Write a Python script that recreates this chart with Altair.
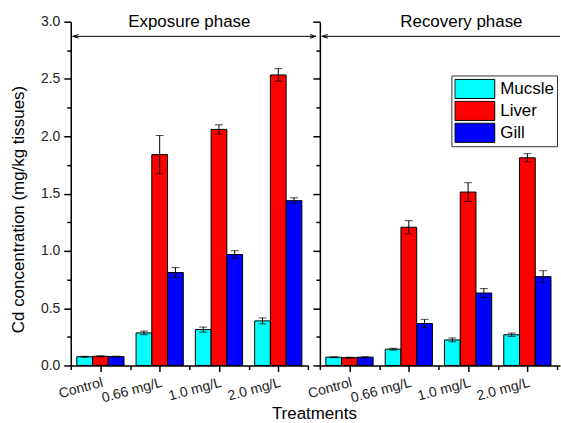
import json
import altair as alt
import pandas as pd

FONT = "Liberation Sans"

# ---------------- data ----------------
treatments = ["Control", "0.66 mg/L", "1.0 mg/L", "2.0 mg/L"]
tissues = ["Mucsle", "Liver", "Gill"]
tissue_colors = ["#00FFFF", "#FF0000", "#0000FF"]
phases = ["Exposure phase", "Recovery phase"]

exposure_mucsle = [0.076, 0.284, 0.313, 0.389]
exposure_mucsle_err = [0.004, 0.016, 0.022, 0.026]
exposure_liver = [0.080, 1.840, 2.060, 2.535]
exposure_liver_err = [0.005, 0.167, 0.040, 0.055]
exposure_gill = [0.077, 0.811, 0.968, 1.438]
exposure_gill_err = [0.004, 0.043, 0.033, 0.025]

recovery_mucsle = [0.072, 0.142, 0.223, 0.268]
recovery_mucsle_err = [0.004, 0.008, 0.017, 0.015]
recovery_liver = [0.068, 1.206, 1.513, 1.812]
recovery_liver_err = [0.004, 0.058, 0.082, 0.036]
recovery_gill = [0.072, 0.366, 0.632, 0.775]
recovery_gill_err = [0.004, 0.036, 0.039, 0.052]

y_title = "Cd concentration (mg/kg tissues)"
x_title = "Treatments"

# ---------------- layout helpers ----------------
BAR_W = 0.2655
x_major = [0, 1, 2, 3]
x_minor = [-0.5, 0.5, 1.5, 2.5, 3.5]
y_major = [i * 0.5 for i in range(7)]
y_minor = [0.25 + i * 0.5 for i in range(6)]


def bar_table(vals_list, errs_list):
    rows = []
    for k, tissue in enumerate(tissues):
        for i, t in enumerate(treatments):
            rows.append({"tissue": tissue, "treatment": t, "idx": i, "k": k,
                         "value": vals_list[k][i], "err": errs_list[k][i]})
    df = pd.DataFrame(rows)
    df["x0"] = df["idx"] + (df["k"] - 1.5) * BAR_W
    df["x1"] = df["x0"] + BAR_W
    df["xc"] = df["x0"] + BAR_W / 2
    df["lo"] = df["value"] - df["err"]
    df["hi"] = df["value"] + df["err"]
    df["zero"] = 0.0
    return df


x_label_expr = f"{json.dumps(treatments)}[datum.value]"

COMMON = dict(tickColor="black", tickWidth=1.5, domainColor="black", domainWidth=1.5,
              grid=False, labelOverlap=False)


def x_axis_major(with_title):
    d = dict(COMMON, values=x_major, labelExpr=x_label_expr, labelAngle=-15,
             labelAlign="right", labelBaseline="top", labelPadding=4,
             labelFont=FONT, labelFontSize=14, labelColor="#222", labelFlush=False,
             tickSize=6, orient="bottom")
    if with_title:
        d.update(title=x_title, titleFont=FONT, titleFontSize=17, titleFontWeight="normal",
                 titleColor="black", titleX=244, titleY=53.5, titleBaseline="alphabetic",
                 titleAlign="center")
    else:
        d.update(title=None)
    return alt.Axis(**d)


def x_axis_minor():
    return alt.Axis(values=x_minor, labels=False, domain=False, tickSize=4,
                    tickColor="black", tickWidth=1.5, grid=False, title=None,
                    orient="bottom")


def y_axis_major(with_labels):
    d = dict(COMMON, values=y_major, tickSize=7, orient="left")
    if with_labels:
        d.update(format=".1f", labelFont=FONT, labelFontSize=14, labelColor="#222",
                 labelPadding=4, title=y_title, titleFont=FONT, titleFontSize=17,
                 titleFontWeight="normal", titleColor="black", titleX=-43, titleY=188)
    else:
        d.update(labels=False, title=None)
    return alt.Axis(**d)


def y_axis_minor():
    return alt.Axis(values=y_minor, labels=False, domain=False, tickSize=4,
                    tickColor="black", tickWidth=1.5, grid=False, title=None,
                    orient="left")


def panel(df, phase_label, label_pos, span, xmax, width, left):
    xs = alt.Scale(domain=[-0.5, xmax], nice=False, zero=False)
    ys = alt.Scale(domain=[0, 3.0], nice=False, zero=True)
    if left:
        legend = None
    else:
        legend = alt.Legend(orient="none", legendX=132, legendY=54, title=None,
                            symbolType="M-1,-0.96H3V0.96H-1Z", symbolSize=400,
                            symbolStrokeColor="black", symbolStrokeWidth=1,
                            labelFont=FONT, labelFontSize=17, labelColor="black",
                            labelOffset=25, strokeColor="#333", fillColor="white",
                            padding=3, rowPadding=1, clipHeight=21)
    color = alt.Color("tissue:N", scale=alt.Scale(domain=tissues, range=tissue_colors),
                      legend=legend)

    bars = alt.Chart(df).mark_bar(stroke="black", strokeWidth=1).encode(
        x=alt.X("x0:Q", scale=xs, axis=x_axis_major(left)),
        x2="x1:Q",
        y=alt.Y("value:Q", scale=ys, axis=y_axis_major(left)),
        y2="zero:Q",
        color=color,
    )
    err = alt.Chart(df).mark_rule(color="black", strokeWidth=1).encode(
        x=alt.X("xc:Q", axis=x_axis_minor()), y=alt.Y("lo:Q", axis=y_axis_minor()),
        y2="hi:Q")
    caps = alt.Chart(df).transform_fold(["lo", "hi"], as_=["which", "yv"]).mark_tick(
        orient="horizontal", size=8, thickness=1, color="black").encode(
        x=alt.X("xc:Q", axis=None), y=alt.Y("yv:Q", axis=None))

    arrow_df = pd.DataFrame({"xs": [span[0]], "xe": [span[1]], "y": [2.872]})
    arrow = alt.Chart(arrow_df).mark_rule(color="black", strokeWidth=1).encode(
        x=alt.X("xs:Q", axis=None), x2="xe:Q", y=alt.Y("y:Q", axis=None))
    head_l = alt.Chart(arrow_df).transform_calculate(hx="datum.xs + 0.05").mark_point(
        shape="M-1,0L1,-0.6M-1,0L1,0.6", filled=False, size=36, stroke="black",
        strokeWidth=1, opacity=1).encode(x=alt.X("hx:Q", axis=None), y=alt.Y("y:Q", axis=None))
    layers = [bars, err, caps, arrow, head_l]
    if left:
        head_r = alt.Chart(arrow_df).transform_calculate(hx="datum.xe - 0.05").mark_point(
            shape="M1,0L-1,-0.6M1,0L-1,0.6", filled=False, size=36, stroke="black",
            strokeWidth=1, opacity=1).encode(x=alt.X("hx:Q", axis=None), y=alt.Y("y:Q", axis=None))
        layers.append(head_r)

    txt_df = pd.DataFrame({"label": [phase_label], "x": [label_pos], "y": [3.0]})
    txt = alt.Chart(txt_df).mark_text(font=FONT, fontSize=17, color="black",
                                      baseline="alphabetic", align="center", dy=5).encode(
        x=alt.X("x:Q", axis=None), y=alt.Y("y:Q", axis=None), text="label:N")
    layers.append(txt)
    return alt.layer(*layers).resolve_axis(x="independent", y="independent").properties(
        width=width, height=345)


left = panel(bar_table([exposure_mucsle, exposure_liver, exposure_gill],
                       [exposure_mucsle_err, exposure_liver_err, exposure_gill_err]),
             phases[0], 1.5, (-0.466, 3.634), 3.5, 238, True)
right = panel(bar_table([recovery_mucsle, recovery_liver, recovery_gill],
                        [recovery_mucsle_err, recovery_liver_err, recovery_gill_err]),
              phases[1], 1.887, (-0.466, 3.55), 3.55, 241, False)

chart = alt.hconcat(left, right, spacing=12, bounds="flush").resolve_scale(
    color="independent").properties(
    padding={"left": 10, "top": 12, "right": 0, "bottom": 0}
).configure(font=FONT).configure_view(stroke=None)

chart.save("out.html", embed_options={"renderer": "svg", "actions": False})
